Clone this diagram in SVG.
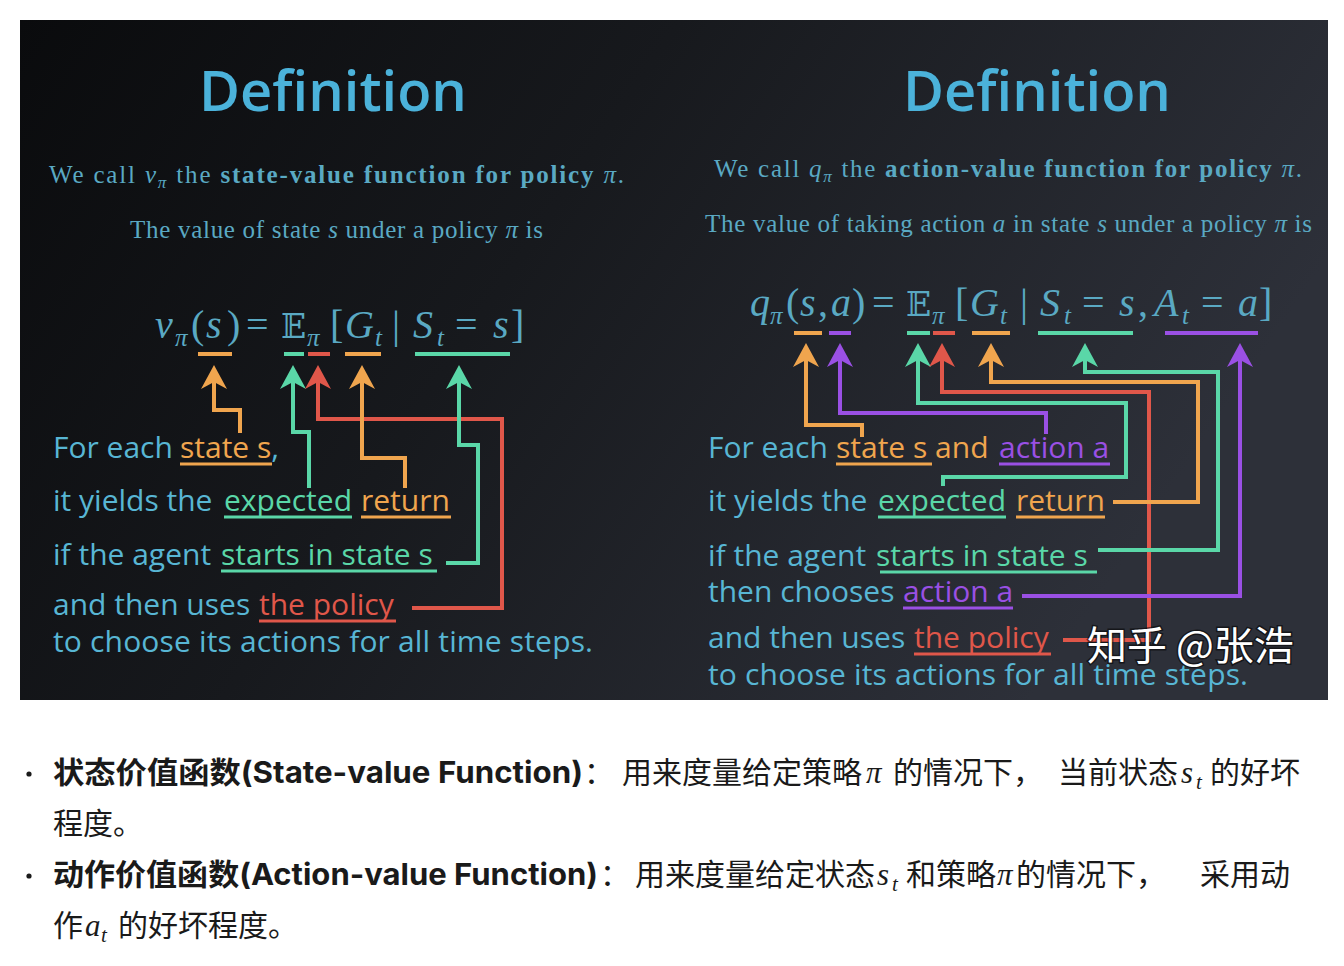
<svg xmlns="http://www.w3.org/2000/svg" width="1344" height="966" viewBox="0 0 1344 966">
  <defs>
    <linearGradient id="bg" x1="0" y1="0" x2="1" y2="0.35">
      <stop offset="0" stop-color="#0a0b0d"/>
      <stop offset="0.45" stop-color="#17191d"/>
      <stop offset="1" stop-color="#2d3039"/>
    </linearGradient>
    <marker id="ah-or" viewBox="0 -14 26 28" refX="12" refY="0" markerWidth="26" markerHeight="28" markerUnits="userSpaceOnUse" orient="auto">
      <path d="M24,0 L0,-13 L7,0 L0,13 Z" fill="#f0a54e"/>
    </marker>
    <marker id="ah-te" viewBox="0 -14 26 28" refX="12" refY="0" markerWidth="26" markerHeight="28" markerUnits="userSpaceOnUse" orient="auto">
      <path d="M24,0 L0,-13 L7,0 L0,13 Z" fill="#5ad7a8"/>
    </marker>
    <marker id="ah-rd" viewBox="0 -14 26 28" refX="12" refY="0" markerWidth="26" markerHeight="28" markerUnits="userSpaceOnUse" orient="auto">
      <path d="M24,0 L0,-13 L7,0 L0,13 Z" fill="#e0574a"/>
    </marker>
    <marker id="ah-pu" viewBox="0 -14 26 28" refX="12" refY="0" markerWidth="26" markerHeight="28" markerUnits="userSpaceOnUse" orient="auto">
      <path d="M24,0 L0,-13 L7,0 L0,13 Z" fill="#9a50e4"/>
    </marker>
  </defs>
  <style>
    .title { font-family: "Open Sans", "Noto Sans", sans-serif; font-size: 56px; font-weight: 600; fill: #4bb2da; text-anchor: middle; }
    .serif { font-family: "Liberation Serif", "DejaVu Serif", serif; font-size: 25px; fill: #5aa9c3; }
    .serif .b { font-weight: bold; }
    .serif .i { font-style: italic; }
    .math { font-family: "Liberation Serif", "DejaVu Serif", serif; font-size: 40px; fill: #5aa9c3; }
    .math .i { font-style: italic; }
    .math .sub { font-size: 25px; font-style: italic; }
    .bb { font-family: "DejaVu Serif", "DejaVu Sans", serif; font-size: 33px; }
    .sans { font-family: "Open Sans", "Noto Sans", sans-serif; font-size: 30px; font-weight: 500; fill: #58b6d4; }
    .or { fill: #f0a54e; }
    .te { fill: #5ad7a8; }
    .rd { fill: #e0574a; }
    .pu { fill: #9a50e4; }
    .ul { stroke-width: 3; fill: none; }
    .mu { stroke-width: 4; fill: none; }
    .c { fill: none; stroke-width: 4; stroke-linejoin: miter; }
    .s-or { stroke: #f0a54e; }
    .s-te { stroke: #5ad7a8; }
    .s-rd { stroke: #e0574a; }
    .s-pu { stroke: #9a50e4; }
    .wm { font-family: "Noto Sans CJK SC", sans-serif; font-size: 40px; fill: #ffffff; stroke: rgba(0,0,0,0.55); stroke-width: 3px; paint-order: stroke; }
    .cn { font-family: "Inter", "Noto Sans CJK SC", sans-serif; font-size: 30px; fill: #1a1a1a; }
    .cnb { font-family: "Inter", "Noto Sans CJK SC", sans-serif; font-size: 30px; font-weight: 700; fill: #1a1a1a; }
    .cm { font-family: "Liberation Serif", "DejaVu Serif", serif; font-size: 31px; font-style: italic; fill: #1a1a1a; }
    .cms { font-family: "Liberation Serif", "DejaVu Serif", serif; font-size: 21px; font-style: italic; fill: #1a1a1a; }
  </style>

  <rect x="0" y="0" width="1344" height="966" fill="#ffffff"/>
  <rect id="slide" x="20" y="20" width="1308" height="680" fill="url(#bg)"/>

  <!-- LEFT PANEL -->
  <g id="left-title"><text class="title" x="333" y="111">Definition</text></g>
  <g id="left-def">
    <text class="serif" x="49" y="183" textLength="575" lengthAdjust="spacing">We call <tspan class="i">v</tspan><tspan class="i" font-size="17" dy="5">π</tspan><tspan dy="-5"> the </tspan><tspan class="b">state-value function for policy</tspan> <tspan class="i">π</tspan>.</text>
    <text class="serif" x="130" y="238" textLength="413" lengthAdjust="spacing">The value of state <tspan class="i">s</tspan> under a policy <tspan class="i">π</tspan> is</text>
  </g>
  <g id="left-formula">
    <text class="math" y="338"><tspan class="i" x="155">v</tspan><tspan class="sub" x="175" y="346">π</tspan><tspan x="191" y="338">(</tspan><tspan class="i" x="206">s</tspan><tspan x="227">)</tspan><tspan x="246">=</tspan><tspan class="bb" x="281">𝔼</tspan><tspan class="sub" x="307" y="346">π</tspan><tspan x="330" y="338">[</tspan><tspan class="i" x="345">G</tspan><tspan class="sub" x="375" y="346">t</tspan><tspan x="392" y="338">|</tspan><tspan class="i" x="413">S</tspan><tspan class="sub" x="437" y="346">t</tspan><tspan x="455" y="338">=</tspan><tspan class="i" x="493">s</tspan><tspan x="511">]</tspan></text>
    <line class="mu s-or" x1="198" y1="354" x2="232" y2="354"/>
    <line class="mu s-te" x1="284" y1="354" x2="304" y2="354"/>
    <line class="mu s-rd" x1="308" y1="354" x2="330" y2="354"/>
    <line class="mu s-or" x1="345" y1="354" x2="381" y2="354"/>
    <line class="mu s-te" x1="415" y1="354" x2="510" y2="354"/>
  </g>
  <g id="left-line1">
    <text class="sans" x="53" y="458">For each <tspan class="or" x="180">state s</tspan>,</text>
    <line class="ul s-or" x1="180" y1="464" x2="272" y2="464"/>
  </g>
  <g id="left-line2">
    <text class="sans" x="53" y="511">it yields the <tspan class="te" x="224">expected</tspan> <tspan class="or" x="361">return</tspan></text>
    <line class="ul s-te" x1="224" y1="517" x2="352" y2="517"/>
    <line class="ul s-or" x1="361" y1="517" x2="451" y2="517"/>
  </g>
  <g id="left-line3">
    <text class="sans" x="53" y="565">if the agent <tspan class="te" x="221">starts in state s</tspan></text>
    <line class="ul s-te" x1="221" y1="571" x2="437" y2="571"/>
  </g>
  <g id="left-line4">
    <text class="sans" x="53" y="615">and then uses <tspan class="rd" x="259">the policy</tspan></text>
    <line class="ul s-rd" x1="259" y1="621" x2="396" y2="621"/>
  </g>
  <g id="left-line5">
    <text class="sans" x="53" y="652" textLength="540" lengthAdjust="spacing">to choose its actions for all time steps.</text>
  </g>

  <!-- RIGHT PANEL -->
  <g id="right-title"><text class="title" x="1037" y="111">Definition</text></g>
  <g id="right-def">
    <text class="serif" x="714" y="177" textLength="588" lengthAdjust="spacing">We call <tspan class="i">q</tspan><tspan class="i" font-size="17" dy="5">π</tspan><tspan dy="-5"> the </tspan><tspan class="b">action-value function for policy</tspan> <tspan class="i">π</tspan>.</text>
    <text class="serif" x="705" y="232" textLength="607" lengthAdjust="spacing">The value of taking action <tspan class="i">a</tspan> in state <tspan class="i">s</tspan> under a policy <tspan class="i">π</tspan> is</text>
  </g>
  <g id="right-formula">
    <text class="math" y="316"><tspan class="i" x="750">q</tspan><tspan class="sub" x="770" y="324">π</tspan><tspan x="786" y="316">(</tspan><tspan class="i" x="800">s</tspan><tspan x="818">,</tspan><tspan class="i" x="831">a</tspan><tspan x="852">)</tspan><tspan x="872">=</tspan><tspan class="bb" x="906">𝔼</tspan><tspan class="sub" x="932" y="324">π</tspan><tspan x="955" y="316">[</tspan><tspan class="i" x="970">G</tspan><tspan class="sub" x="1000" y="324">t</tspan><tspan x="1020" y="316">|</tspan><tspan class="i" x="1040">S</tspan><tspan class="sub" x="1064" y="324">t</tspan><tspan x="1082" y="316">=</tspan><tspan class="i" x="1119">s</tspan><tspan x="1138">,</tspan><tspan class="i" x="1154">A</tspan><tspan class="sub" x="1182" y="324">t</tspan><tspan x="1201" y="316">=</tspan><tspan class="i" x="1238">a</tspan><tspan x="1259">]</tspan></text>
    <line class="mu s-or" x1="794" y1="333" x2="822" y2="333"/>
    <line class="mu s-pu" x1="829" y1="333" x2="851" y2="333"/>
    <line class="mu s-te" x1="907" y1="333" x2="930" y2="333"/>
    <line class="mu s-rd" x1="933" y1="333" x2="955" y2="333"/>
    <line class="mu s-or" x1="972" y1="333" x2="1010" y2="333"/>
    <line class="mu s-te" x1="1038" y1="333" x2="1133" y2="333"/>
    <line class="mu s-pu" x1="1165" y1="333" x2="1258" y2="333"/>
  </g>
  <g id="right-line1">
    <text class="sans" x="708" y="458">For each <tspan class="or" x="836">state s</tspan><tspan class="or"> and </tspan><tspan class="pu" x="999">action a</tspan></text>
    <line class="ul s-or" x1="836" y1="464" x2="932" y2="464"/>
    <line class="ul s-pu" x1="999" y1="464" x2="1110" y2="464"/>
  </g>
  <g id="right-line2">
    <text class="sans" x="708" y="511">it yields the <tspan class="te" x="878">expected</tspan> <tspan class="or" x="1016">return</tspan></text>
    <line class="ul s-te" x1="878" y1="517" x2="1006" y2="517"/>
    <line class="ul s-or" x1="1016" y1="517" x2="1105" y2="517"/>
  </g>
  <g id="right-line3">
    <text class="sans" x="708" y="566">if the agent <tspan class="te" x="876">starts in state s</tspan></text>
    <line class="ul s-te" x1="880" y1="572" x2="1097" y2="572"/>
  </g>
  <g id="right-line4">
    <text class="sans" x="708" y="602">then chooses <tspan class="pu" x="903">action a</tspan></text>
    <line class="ul s-pu" x1="903" y1="608" x2="1013" y2="608"/>
  </g>
  <g id="right-line5">
    <text class="sans" x="708" y="648">and then uses <tspan class="rd" x="914">the policy</tspan></text>
    <line class="ul s-rd" x1="914" y1="654" x2="1051" y2="654"/>
  </g>
  <g id="right-line6">
    <text class="sans" x="708" y="685" textLength="540" lengthAdjust="spacing">to choose its actions for all time steps.</text>
  </g>

  <!-- CONNECTORS -->
  <g id="connectors">
    <polyline class="c s-or" points="240,433 240,410 214,410 214,377" marker-end="url(#ah-or)"/>
    <polyline class="c s-te" points="309,488 309,432 293,432 293,377" marker-end="url(#ah-te)"/>
    <polyline class="c s-rd" points="412,608 502,608 502,419 318,419 318,377" marker-end="url(#ah-rd)"/>
    <polyline class="c s-or" points="405,488 405,458 362,458 362,377" marker-end="url(#ah-or)"/>
    <polyline class="c s-te" points="446,563 478,563 478,445 459,445 459,377" marker-end="url(#ah-te)"/>

    <polyline class="c s-or" points="862,437 862,425 806,425 806,355" marker-end="url(#ah-or)"/>
    <polyline class="c s-pu" points="1046,434 1046,413 840,413 840,355" marker-end="url(#ah-pu)"/>
    <polyline class="c s-te" points="943,486 943,477 1126,477 1126,403 918,403 918,355" marker-end="url(#ah-te)"/>
    <polyline class="c s-rd" points="1063,640 1149,640 1149,392 942,392 942,355" marker-end="url(#ah-rd)"/>
    <polyline class="c s-or" points="1113,502 1198,502 1198,382 991,382 991,355" marker-end="url(#ah-or)"/>
    <polyline class="c s-te" points="1098,550 1218,550 1218,372 1085,372 1085,355" marker-end="url(#ah-te)"/>
    <polyline class="c s-pu" points="1022,596 1240,596 1240,355" marker-end="url(#ah-pu)"/>
  </g>

  <g id="watermark"><text class="wm" x="1087" y="660">知乎 @张浩</text></g>

  <!-- BOTTOM TEXT -->
  <g id="bullet1">
    <circle cx="29" cy="774" r="2.6" fill="#1a1a1a"/>
    <text class="cnb" x="53" y="783" textLength="530" lengthAdjust="spacingAndGlyphs">状态价值函数(State-value Function)</text>
    <text class="cn" x="584" y="783">：</text>
    <text class="cn" x="622" y="783">用来度量给定策略</text>
    <text class="cm" x="866" y="783">π</text>
    <text class="cn" x="893" y="783">的情况下，</text>
    <text class="cn" x="1058" y="783">当前状态</text>
    <text class="cm" x="1181" y="783">s</text>
    <text class="cms" x="1196" y="789">t</text>
    <text class="cn" x="1210" y="783">的好坏</text>
    <text class="cn" x="53" y="834">程度。</text>
  </g>
  <g id="bullet2">
    <circle cx="29" cy="876" r="2.6" fill="#1a1a1a"/>
    <text class="cnb" x="53" y="885" textLength="545" lengthAdjust="spacingAndGlyphs">动作价值函数(Action-value Function)</text>
    <text class="cn" x="600" y="885">：</text>
    <text class="cn" x="635" y="885">用来度量给定状态</text>
    <text class="cm" x="877" y="885">s</text>
    <text class="cms" x="892" y="891">t</text>
    <text class="cn" x="906" y="885">和策略</text>
    <text class="cm" x="997" y="885">π</text>
    <text class="cn" x="1016" y="885">的情况下，</text>
    <text class="cn" x="1200" y="885">采用动</text>
    <text class="cn" x="53" y="936">作</text>
    <text class="cm" x="85" y="936">a</text>
    <text class="cms" x="101" y="942">t</text>
    <text class="cn" x="118" y="936">的好坏程度。</text>
  </g>
</svg>
